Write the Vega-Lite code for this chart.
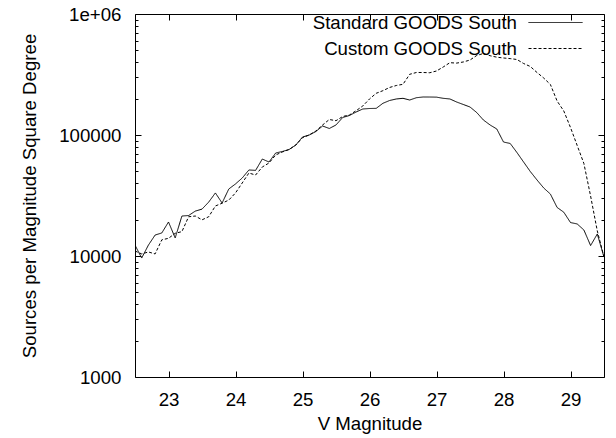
{
  "$schema": "https://vega.github.io/schema/vega-lite/v6.json",
  "width": 469,
  "height": 363,
  "autosize": "none",
  "padding": {"left": 135, "top": 14, "right": 12, "bottom": 61},
  "background": "white",
  "config": {
    "font": "Liberation Sans",
    "view": {"stroke": null},
    "axis": {
      "grid": false,
      "domainColor": "black",
      "domainWidth": 1,
      "tickColor": "black",
      "tickWidth": 1,
      "labelColor": "black",
      "titleColor": "black",
      "labelFont": "Liberation Sans",
      "titleFont": "Liberation Sans",
      "labelFontSize": 18.67,
      "titleFontSize": 18.67,
      "titleFontWeight": "normal",
      "labelOverlap": false,
      "labelFlush": false
    },
    "legend": {
      "labelFont": "Liberation Sans",
      "labelFontSize": 18.67,
      "labelColor": "black"
    }
  },
  "data": {
    "values": [
      {"m": 22.5, "n": 12300, "series": "Standard GOODS South"},
      {"m": 22.6, "n": 9620, "series": "Standard GOODS South"},
      {"m": 22.7, "n": 12300, "series": "Standard GOODS South"},
      {"m": 22.8, "n": 14900, "series": "Standard GOODS South"},
      {"m": 22.9, "n": 15500, "series": "Standard GOODS South"},
      {"m": 23.0, "n": 19100, "series": "Standard GOODS South"},
      {"m": 23.1, "n": 14100, "series": "Standard GOODS South"},
      {"m": 23.2, "n": 21400, "series": "Standard GOODS South"},
      {"m": 23.3, "n": 21600, "series": "Standard GOODS South"},
      {"m": 23.4, "n": 23500, "series": "Standard GOODS South"},
      {"m": 23.5, "n": 24400, "series": "Standard GOODS South"},
      {"m": 23.6, "n": 27900, "series": "Standard GOODS South"},
      {"m": 23.7, "n": 33200, "series": "Standard GOODS South"},
      {"m": 23.8, "n": 27400, "series": "Standard GOODS South"},
      {"m": 23.9, "n": 35800, "series": "Standard GOODS South"},
      {"m": 24.0, "n": 39400, "series": "Standard GOODS South"},
      {"m": 24.1, "n": 44100, "series": "Standard GOODS South"},
      {"m": 24.2, "n": 51400, "series": "Standard GOODS South"},
      {"m": 24.3, "n": 51000, "series": "Standard GOODS South"},
      {"m": 24.4, "n": 63300, "series": "Standard GOODS South"},
      {"m": 24.5, "n": 59800, "series": "Standard GOODS South"},
      {"m": 24.6, "n": 71000, "series": "Standard GOODS South"},
      {"m": 24.7, "n": 73100, "series": "Standard GOODS South"},
      {"m": 24.8, "n": 75900, "series": "Standard GOODS South"},
      {"m": 24.9, "n": 82600, "series": "Standard GOODS South"},
      {"m": 25.0, "n": 96200, "series": "Standard GOODS South"},
      {"m": 25.1, "n": 100000, "series": "Standard GOODS South"},
      {"m": 25.2, "n": 106900, "series": "Standard GOODS South"},
      {"m": 25.3, "n": 118700, "series": "Standard GOODS South"},
      {"m": 25.4, "n": 113200, "series": "Standard GOODS South"},
      {"m": 25.5, "n": 121000, "series": "Standard GOODS South"},
      {"m": 25.6, "n": 139600, "series": "Standard GOODS South"},
      {"m": 25.7, "n": 144900, "series": "Standard GOODS South"},
      {"m": 25.8, "n": 154900, "series": "Standard GOODS South"},
      {"m": 25.9, "n": 164000, "series": "Standard GOODS South"},
      {"m": 26.0, "n": 165600, "series": "Standard GOODS South"},
      {"m": 26.1, "n": 166000, "series": "Standard GOODS South"},
      {"m": 26.2, "n": 182800, "series": "Standard GOODS South"},
      {"m": 26.3, "n": 192800, "series": "Standard GOODS South"},
      {"m": 26.4, "n": 198500, "series": "Standard GOODS South"},
      {"m": 26.5, "n": 201000, "series": "Standard GOODS South"},
      {"m": 26.6, "n": 194600, "series": "Standard GOODS South"},
      {"m": 26.7, "n": 203300, "series": "Standard GOODS South"},
      {"m": 26.8, "n": 206100, "series": "Standard GOODS South"},
      {"m": 26.9, "n": 206000, "series": "Standard GOODS South"},
      {"m": 27.0, "n": 205500, "series": "Standard GOODS South"},
      {"m": 27.1, "n": 201000, "series": "Standard GOODS South"},
      {"m": 27.2, "n": 198500, "series": "Standard GOODS South"},
      {"m": 27.3, "n": 187400, "series": "Standard GOODS South"},
      {"m": 27.4, "n": 178700, "series": "Standard GOODS South"},
      {"m": 27.5, "n": 170400, "series": "Standard GOODS South"},
      {"m": 27.6, "n": 153400, "series": "Standard GOODS South"},
      {"m": 27.7, "n": 133000, "series": "Standard GOODS South"},
      {"m": 27.8, "n": 121000, "series": "Standard GOODS South"},
      {"m": 27.9, "n": 112100, "series": "Standard GOODS South"},
      {"m": 28.0, "n": 87500, "series": "Standard GOODS South"},
      {"m": 28.1, "n": 85100, "series": "Standard GOODS South"},
      {"m": 28.2, "n": 71700, "series": "Standard GOODS South"},
      {"m": 28.3, "n": 59800, "series": "Standard GOODS South"},
      {"m": 28.4, "n": 49900, "series": "Standard GOODS South"},
      {"m": 28.5, "n": 42500, "series": "Standard GOODS South"},
      {"m": 28.6, "n": 36500, "series": "Standard GOODS South"},
      {"m": 28.7, "n": 32500, "series": "Standard GOODS South"},
      {"m": 28.8, "n": 25200, "series": "Standard GOODS South"},
      {"m": 28.9, "n": 23000, "series": "Standard GOODS South"},
      {"m": 29.0, "n": 18900, "series": "Standard GOODS South"},
      {"m": 29.1, "n": 18400, "series": "Standard GOODS South"},
      {"m": 29.2, "n": 16400, "series": "Standard GOODS South"},
      {"m": 29.3, "n": 12200, "series": "Standard GOODS South"},
      {"m": 29.4, "n": 15200, "series": "Standard GOODS South"},
      {"m": 29.5, "n": 9800, "series": "Standard GOODS South"},
      {"m": 22.5, "n": 11000, "series": "Custom GOODS South"},
      {"m": 22.6, "n": 10400, "series": "Custom GOODS South"},
      {"m": 22.7, "n": 10800, "series": "Custom GOODS South"},
      {"m": 22.8, "n": 10400, "series": "Custom GOODS South"},
      {"m": 22.9, "n": 13600, "series": "Custom GOODS South"},
      {"m": 23.0, "n": 14000, "series": "Custom GOODS South"},
      {"m": 23.1, "n": 15400, "series": "Custom GOODS South"},
      {"m": 23.2, "n": 15900, "series": "Custom GOODS South"},
      {"m": 23.3, "n": 21100, "series": "Custom GOODS South"},
      {"m": 23.4, "n": 21400, "series": "Custom GOODS South"},
      {"m": 23.5, "n": 19900, "series": "Custom GOODS South"},
      {"m": 23.6, "n": 21100, "series": "Custom GOODS South"},
      {"m": 23.7, "n": 25900, "series": "Custom GOODS South"},
      {"m": 23.8, "n": 27300, "series": "Custom GOODS South"},
      {"m": 23.9, "n": 29000, "series": "Custom GOODS South"},
      {"m": 24.0, "n": 33200, "series": "Custom GOODS South"},
      {"m": 24.1, "n": 40100, "series": "Custom GOODS South"},
      {"m": 24.2, "n": 48500, "series": "Custom GOODS South"},
      {"m": 24.3, "n": 46700, "series": "Custom GOODS South"},
      {"m": 24.4, "n": 54400, "series": "Custom GOODS South"},
      {"m": 24.5, "n": 58700, "series": "Custom GOODS South"},
      {"m": 24.6, "n": 68400, "series": "Custom GOODS South"},
      {"m": 24.7, "n": 72400, "series": "Custom GOODS South"},
      {"m": 24.8, "n": 75900, "series": "Custom GOODS South"},
      {"m": 24.9, "n": 82600, "series": "Custom GOODS South"},
      {"m": 25.0, "n": 95000, "series": "Custom GOODS South"},
      {"m": 25.1, "n": 100000, "series": "Custom GOODS South"},
      {"m": 25.2, "n": 107900, "series": "Custom GOODS South"},
      {"m": 25.3, "n": 121000, "series": "Custom GOODS South"},
      {"m": 25.4, "n": 134300, "series": "Custom GOODS South"},
      {"m": 25.5, "n": 131300, "series": "Custom GOODS South"},
      {"m": 25.6, "n": 142200, "series": "Custom GOODS South"},
      {"m": 25.7, "n": 146300, "series": "Custom GOODS South"},
      {"m": 25.8, "n": 158800, "series": "Custom GOODS South"},
      {"m": 25.9, "n": 173700, "series": "Custom GOODS South"},
      {"m": 26.0, "n": 198500, "series": "Custom GOODS South"},
      {"m": 26.1, "n": 221100, "series": "Custom GOODS South"},
      {"m": 26.2, "n": 232400, "series": "Custom GOODS South"},
      {"m": 26.3, "n": 247100, "series": "Custom GOODS South"},
      {"m": 26.4, "n": 256500, "series": "Custom GOODS South"},
      {"m": 26.5, "n": 262400, "series": "Custom GOODS South"},
      {"m": 26.6, "n": 317500, "series": "Custom GOODS South"},
      {"m": 26.7, "n": 328500, "series": "Custom GOODS South"},
      {"m": 26.8, "n": 328500, "series": "Custom GOODS South"},
      {"m": 26.9, "n": 327000, "series": "Custom GOODS South"},
      {"m": 27.0, "n": 338100, "series": "Custom GOODS South"},
      {"m": 27.1, "n": 364700, "series": "Custom GOODS South"},
      {"m": 27.2, "n": 396000, "series": "Custom GOODS South"},
      {"m": 27.3, "n": 392800, "series": "Custom GOODS South"},
      {"m": 27.4, "n": 401300, "series": "Custom GOODS South"},
      {"m": 27.5, "n": 416600, "series": "Custom GOODS South"},
      {"m": 27.6, "n": 453900, "series": "Custom GOODS South"},
      {"m": 27.7, "n": 471600, "series": "Custom GOODS South"},
      {"m": 27.8, "n": 452000, "series": "Custom GOODS South"},
      {"m": 27.9, "n": 439700, "series": "Custom GOODS South"},
      {"m": 28.0, "n": 433000, "series": "Custom GOODS South"},
      {"m": 28.1, "n": 428000, "series": "Custom GOODS South"},
      {"m": 28.2, "n": 420700, "series": "Custom GOODS South"},
      {"m": 28.3, "n": 389900, "series": "Custom GOODS South"},
      {"m": 28.4, "n": 368300, "series": "Custom GOODS South"},
      {"m": 28.5, "n": 328500, "series": "Custom GOODS South"},
      {"m": 28.6, "n": 295800, "series": "Custom GOODS South"},
      {"m": 28.7, "n": 261400, "series": "Custom GOODS South"},
      {"m": 28.8, "n": 190900, "series": "Custom GOODS South"},
      {"m": 28.9, "n": 157900, "series": "Custom GOODS South"},
      {"m": 29.0, "n": 115300, "series": "Custom GOODS South"},
      {"m": 29.1, "n": 81900, "series": "Custom GOODS South"},
      {"m": 29.2, "n": 58100, "series": "Custom GOODS South"},
      {"m": 29.3, "n": 31300, "series": "Custom GOODS South"},
      {"m": 29.4, "n": 16100, "series": "Custom GOODS South"},
      {"m": 29.5, "n": 9800, "series": "Custom GOODS South"}
    ]
  },
  "layer": [
    {
      "transform": [{"filter": "datum.series == 'Standard GOODS South'"}],
      "mark": {"type": "line", "color": "black", "strokeWidth": 1, "clip": true},
      "encoding": {
        "x": {
          "field": "m", "type": "quantitative",
          "scale": {"domain": [22.5, 29.5], "nice": false, "zero": false},
          "axis": {
            "orient": "bottom",
            "title": "V Magnitude",
            "values": [23, 24, 25, 26, 27, 28, 29],
            "format": "d",
            "tickSize": -6,
            "labelPadding": 19,
            "titleY": 37,
            "titleBaseline": "top"
          }
        },
        "y": {
          "field": "n", "type": "quantitative",
          "scale": {"type": "log", "domain": [1000, 1000000], "nice": false},
          "axis": {
            "orient": "left",
            "title": "Sources per Magnitude Square Degree",
            "values": [1000, 2000, 3000, 4000, 5000, 6000, 7000, 8000, 9000, 10000, 20000, 30000, 40000, 50000, 60000, 70000, 80000, 90000, 100000, 200000, 300000, 400000, 500000, 600000, 700000, 800000, 900000, 1000000],
            "labelExpr": "datum.value == 1000000 ? '1e+06' : (datum.value == 1000 || datum.value == 10000 || datum.value == 100000) ? format(datum.value, 'd') : ''",
            "tickSize": {"condition": {"test": "datum.value == 1000 || datum.value == 10000 || datum.value == 100000 || datum.value == 1000000", "value": -6}, "value": -3},
            "labelPadding": 20,
            "titlePadding": 19
          }
        },
        "strokeDash": {
          "field": "series", "type": "nominal",
          "scale": {"domain": ["Standard GOODS South", "Custom GOODS South"], "range": [[1, 0], [3, 2]]},
          "legend": {
            "title": null,
            "orient": "none",
            "legendX": 411,
            "legendY": -1,
            "symbolType": "M-3,0H3",
            "symbolSize": 324,
            "symbolStrokeColor": "black",
            "symbolFillColor": "transparent",
            "symbolStrokeWidth": 1,
            "labelAlign": "right",
            "labelOffset": -48,
            "labelLimit": 0,
            "rowPadding": 6,
            "padding": 0
          }
        }
      }
    },
    {
      "transform": [{"filter": "datum.series == 'Custom GOODS South'"}],
      "mark": {"type": "line", "color": "black", "strokeWidth": 1, "clip": true},
      "encoding": {
        "x": {
          "field": "m", "type": "quantitative",
          "scale": {"domain": [22.5, 29.5], "nice": false, "zero": false},
          "axis": {
            "orient": "top",
            "title": null,
            "labels": false,
            "values": [23, 24, 25, 26, 27, 28, 29],
            "tickSize": -6
          }
        },
        "y": {
          "field": "n", "type": "quantitative",
          "scale": {"type": "log", "domain": [1000, 1000000], "nice": false},
          "axis": {
            "orient": "right",
            "title": null,
            "labels": false,
            "values": [1000, 2000, 3000, 4000, 5000, 6000, 7000, 8000, 9000, 10000, 20000, 30000, 40000, 50000, 60000, 70000, 80000, 90000, 100000, 200000, 300000, 400000, 500000, 600000, 700000, 800000, 900000, 1000000],
            "tickSize": {"condition": {"test": "datum.value == 1000 || datum.value == 10000 || datum.value == 100000 || datum.value == 1000000", "value": -6}, "value": -3}
          }
        },
        "strokeDash": {
          "field": "series", "type": "nominal",
          "scale": {"domain": ["Standard GOODS South", "Custom GOODS South"], "range": [[1, 0], [3, 2]]}
        }
      }
    }
  ],
  "resolve": {"axis": {"x": "independent", "y": "independent"}}
}
